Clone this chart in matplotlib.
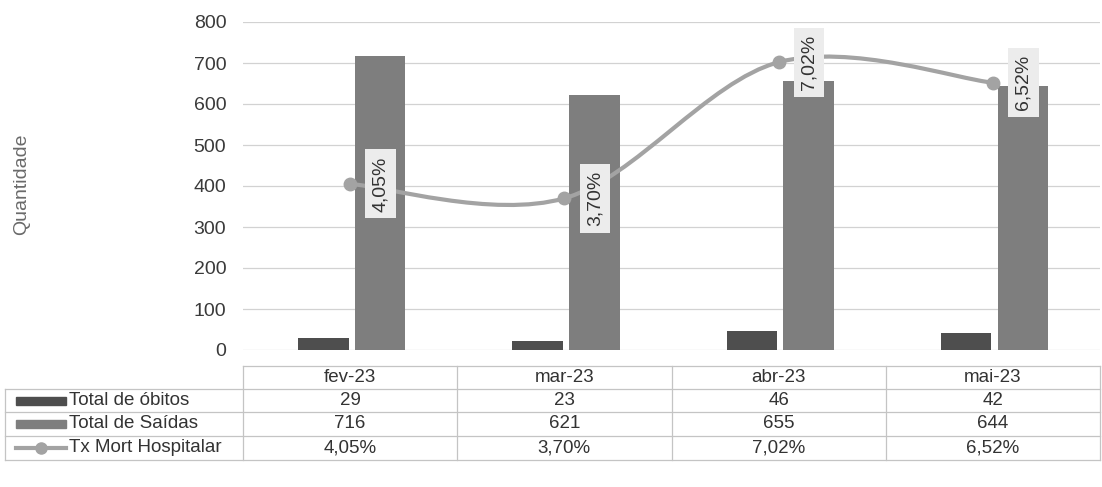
import numpy as np
import matplotlib
matplotlib.use("Agg")
import matplotlib.pyplot as plt
import matplotlib.transforms as mtransforms
from matplotlib.path import Path
from matplotlib.patches import PathPatch, Rectangle
from matplotlib.lines import Line2D

# dados
meses = ["fev-23", "mar-23", "abr-23", "mai-23"]
obitos = [29, 23, 46, 42]
saidas = [716, 621, 655, 644]
tx_mort = [0.0405, 0.0370, 0.0702, 0.0652]
series = ["Total de óbitos", "Total de Saídas", "Tx Mort Hospitalar"]

COR_OBITOS = "#4e4e4e"
COR_SAIDAS = "#7e7e7e"
COR_LINHA = "#a3a3a3"
COR_TEXTO = "#333333"
COR_GRADE = "#d2d2d2"
COR_TABELA = "#c4c4c4"

plt.rcParams["font.family"] = ["Liberation Sans", "DejaVu Sans"]

W, H = 1102, 487
fig = plt.figure(figsize=(W / 100, H / 100), dpi=100)


def fx(px):
    return px / W


def fy(py):
    return 1 - py / H


def pct(v):
    return f"{v * 100:.2f}%".replace(".", ",")


ax = fig.add_axes([fx(243), fy(350), fx(1100) - fx(243), fy(22) - fy(350)])
x = np.arange(len(meses))
larg = 0.235
ax.bar(x - 0.125, obitos, larg, color=COR_OBITOS, zorder=2)
ax.bar(x + 0.14, saidas, larg, color=COR_SAIDAS, zorder=2)
ax.set_xlim(-0.5, len(meses) - 0.5)
ax.set_ylim(0, 800)
ax.set_yticks(range(0, 801, 100))
ax.yaxis.grid(True, color=COR_GRADE, lw=0.9)
ax.set_axisbelow(True)
for s in ax.spines.values():
    s.set_visible(False)
ax.tick_params(axis="y", length=0, pad=12, labelsize=14, labelcolor="#3a3a3a")
ax.set_xticks([])
fig.text(fx(22), fy(184), "Quantidade", rotation=90, ha="center", va="center",
         fontsize=14, color="#6a6a6a")

# linha suavizada (eixo secundario oculto)
ax2 = ax.twinx()
ax2.set_ylim(0, 0.08)
ax2.axis("off")
pts = [np.array(p, dtype=float) for p in zip(x, tx_mort)]
verts = [tuple(pts[0])]
codes = [Path.MOVETO]
n = len(pts)
for i in range(n - 1):
    p0, p1 = pts[max(i - 1, 0)], pts[i]
    p2, p3 = pts[i + 1], pts[min(i + 2, n - 1)]
    c1 = p1 + (p2 - p0) / 6
    c2 = p2 - (p3 - p1) / 6
    verts += [tuple(c1), tuple(c2), tuple(p2)]
    codes += [Path.CURVE4] * 3
ax2.add_patch(PathPatch(Path(verts, codes), fill=False, edgecolor=COR_LINHA,
                        lw=3, zorder=3))
ax2.plot(x, tx_mort, "o", ms=9, color=COR_LINHA, zorder=4)
for xi, v in zip(x, tx_mort):
    ax2.annotate(pct(v), (xi, v), xytext=(22, 0), textcoords="offset points",
                 rotation=90, ha="center", va="center", fontsize=14,
                 color=COR_TEXTO, zorder=5,
                 bbox=dict(boxstyle="square,pad=0.35", fc="#ececec", ec="none"))

# tabela de dados
blend = mtransforms.blended_transform_factory(ax.transData, fig.transFigure)
linhas_y = [366, 389, 412, 436, 460]

fig.add_artist(Line2D([fx(243), fx(1100)], [fy(linhas_y[0])] * 2, color=COR_TABELA, lw=0.9))
for py in linhas_y[1:]:
    fig.add_artist(Line2D([fx(5), fx(1100)], [fy(py)] * 2, color=COR_TABELA, lw=0.9))
fig.add_artist(Line2D([fx(5)] * 2, [fy(linhas_y[1]), fy(linhas_y[-1])],
                      color=COR_TABELA, lw=0.9))
for k in range(len(meses) + 1):
    ax.plot([k - 0.5] * 2, [fy(linhas_y[0]), fy(linhas_y[-1])], transform=blend,
            color=COR_TABELA, lw=0.9, clip_on=False)

linhas_tab = [meses, [str(v) for v in obitos], [str(v) for v in saidas],
              [pct(v) for v in tx_mort]]
for r, vals in enumerate(linhas_tab):
    ym = fy((linhas_y[r] + linhas_y[r + 1]) / 2)
    for xi, t in zip(x, vals):
        ax.text(xi, ym, t, transform=blend, ha="center", va="center",
                fontsize=13.5, color=COR_TEXTO, clip_on=False)

for r, nome in enumerate(series):
    ym = (linhas_y[r + 1] + linhas_y[r + 2]) / 2
    fig.text(fx(69), fy(ym), nome, ha="left", va="center", fontsize=13.5,
             color=COR_TEXTO)
    if r < 2:
        fig.add_artist(Rectangle((fx(16), fy(ym + 4)), fx(50), 8 / H,
                                 color=[COR_OBITOS, COR_SAIDAS][r]))
    else:
        fig.add_artist(Line2D([fx(16), fx(66)], [fy(ym)] * 2, color=COR_LINHA, lw=3))
        fig.add_artist(Line2D([fx(41)], [fy(ym)], marker="o", ms=8, color=COR_LINHA))

fig.savefig("out.png", dpi=100)
